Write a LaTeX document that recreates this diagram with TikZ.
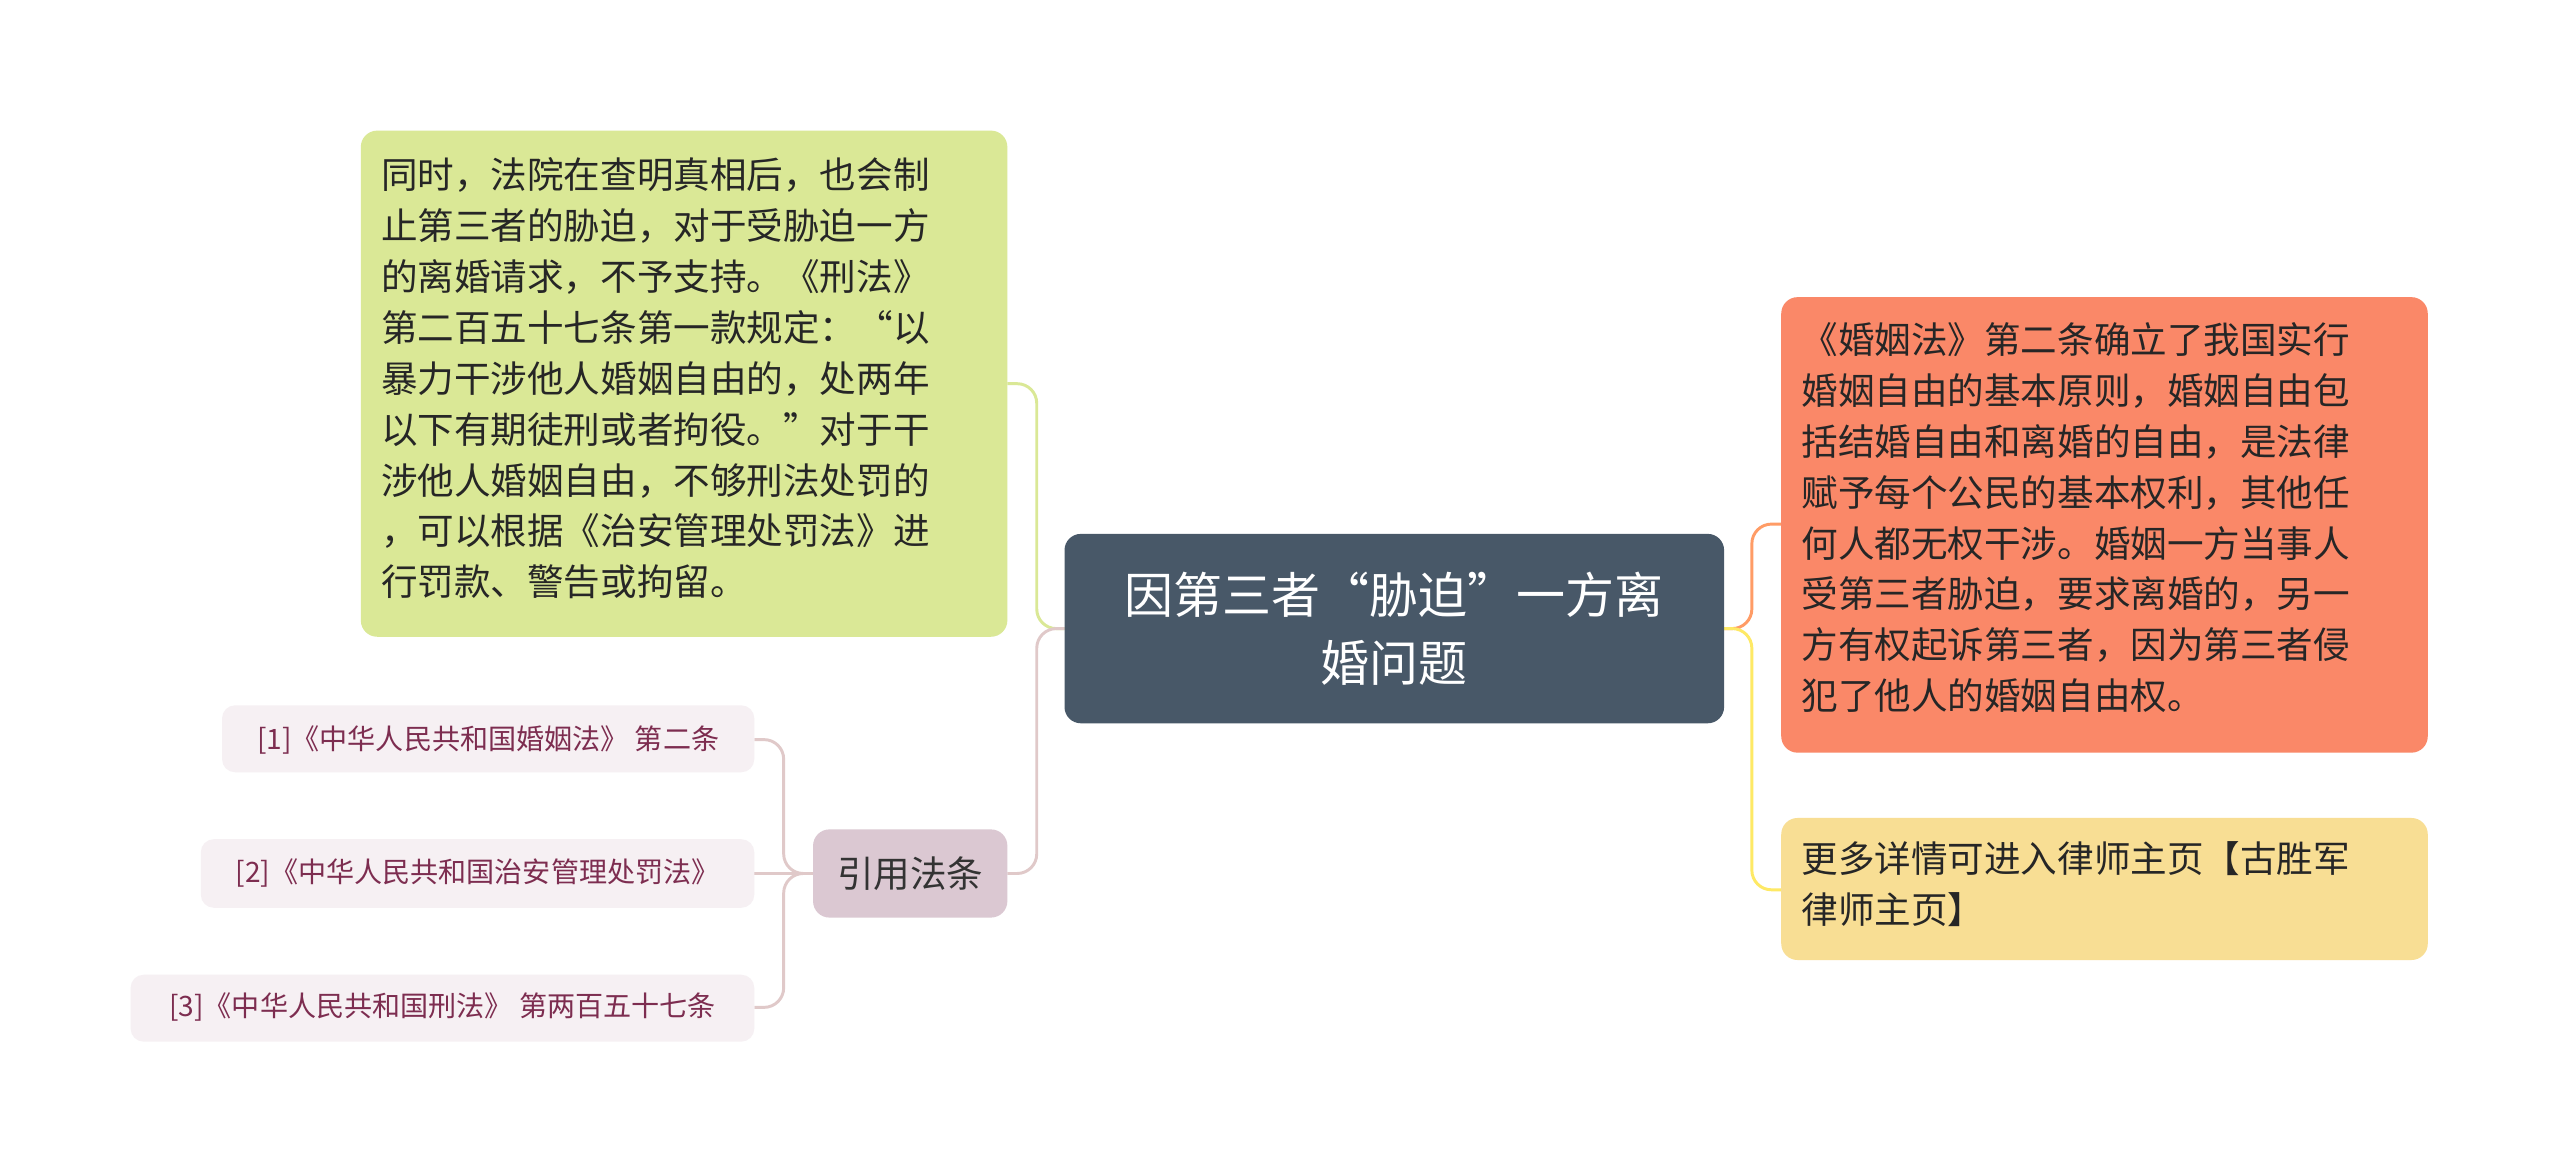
\documentclass[tikz,border=0pt]{standalone}
\usepackage{fontspec}
\setmainfont{Noto Sans CJK SC}
\begin{document}
\begin{tikzpicture}[x=0.5pt,y=-0.5pt,
 box/.style={rounded corners=4pt,inner sep=0pt,anchor=north west},
 txt/.style={align=left,font=\fontsize{11.2}{15.6}\selectfont,text=black!85,inner sep=0pt},
 conn/.style={line width=0.9pt,rounded corners=6pt}]
\useasboundingbox (0,0) rectangle (1568,719);
\fill[white] (0,0) rectangle (1568,719);
% connectors
\draw[conn,draw={rgb,255:red,218;green,232;blue,150}] (652,385) -- (635,385) -- (635,235) -- (617,235);
\draw[conn,draw=pink!60!gray!60] (652,385) -- (635,385) -- (635,535) -- (617,535);
\draw[conn,draw=pink!60!gray!60] (498,535) -- (480,535) -- (480,453) -- (462,453);
\draw[conn,draw=pink!60!gray!60] (498,535) -- (462,535);
\draw[conn,draw=pink!60!gray!60] (498,535) -- (480,535) -- (480,617) -- (462,617);
\draw[conn,draw=orange!70!red!60] (1056,385) -- (1073,385) -- (1073,321) -- (1091,321);
\draw[conn,draw=yellow!80!orange!60] (1056,385) -- (1073,385) -- (1073,545) -- (1091,545);
% center
\fill[rounded corners=5pt,fill={rgb,255:red,72;green,88;blue,104}] (652,327) rectangle (1056,443);
\node[align=center,text=white,font=\fontsize{15}{21}\selectfont] (c) at (854,385) {因第三者“胁迫”一方离\\婚问题};
% green
\fill[rounded corners=5pt,fill={rgb,255:red,218;green,232;blue,150}] (221,80) rectangle (617,390);
\node[txt,anchor=north west] (g) at (233,96) {同时，法院在查明真相后，也会制\\止第三者的胁迫，对于受胁迫一方\\的离婚请求，不予支持。《刑法》\\第二百五十七条第一款规定：“以\\暴力干涉他人婚姻自由的，处两年\\以下有期徒刑或者拘役。”对于干\\涉他人婚姻自由，不够刑法处罚的\\，可以根据《治安管理处罚法》进\\行罚款、警告或拘留。};
% cite
\fill[rounded corners=5pt,fill={rgb,255:red,219;green,200;blue,210}] (498,508) rectangle (617,562);
\node[font=\fontsize{11.2}{14}\selectfont,text=black!80] (r) at (557.5,535) {引用法条};
\tikzset{ref/.style={fill={rgb,255:red,246;green,240;blue,243}}, reft/.style={font=\fontsize{8.6}{11}\selectfont,text={rgb,255:red,125;green,45;blue,80}}}
\fill[ref,rounded corners=4pt] (136,432) rectangle (462,473);
\node[reft] (r1) at (299,453) {[1]《中华人民共和国婚姻法》 第二条};
\fill[ref,rounded corners=4pt] (123,514) rectangle (462,556);
\node[reft] (r2) at (292.5,535) {[2]《中华人民共和国治安管理处罚法》};
\fill[ref,rounded corners=4pt] (80,597) rectangle (462,638);
\node[reft] (r3) at (271,617) {[3]《中华人民共和国刑法》 第两百五十七条};
% orange
\fill[rounded corners=5pt,fill={rgb,255:red,250;green,136;blue,104}] (1091,182) rectangle (1487,461);
\node[txt,anchor=north west] (o) at (1103,197) {《婚姻法》第二条确立了我国实行\\婚姻自由的基本原则，婚姻自由包\\括结婚自由和离婚的自由，是法律\\赋予每个公民的基本权利，其他任\\何人都无权干涉。婚姻一方当事人\\受第三者胁迫，要求离婚的，另一\\方有权起诉第三者，因为第三者侵\\犯了他人的婚姻自由权。};
% yellow
\fill[rounded corners=5pt,fill={rgb,255:red,248;green,222;blue,148}] (1091,501) rectangle (1487,588);
\node[txt,anchor=north west] (y) at (1103,515) {更多详情可进入律师主页【古胜军\\律师主页】};
\end{tikzpicture}
\end{document}
